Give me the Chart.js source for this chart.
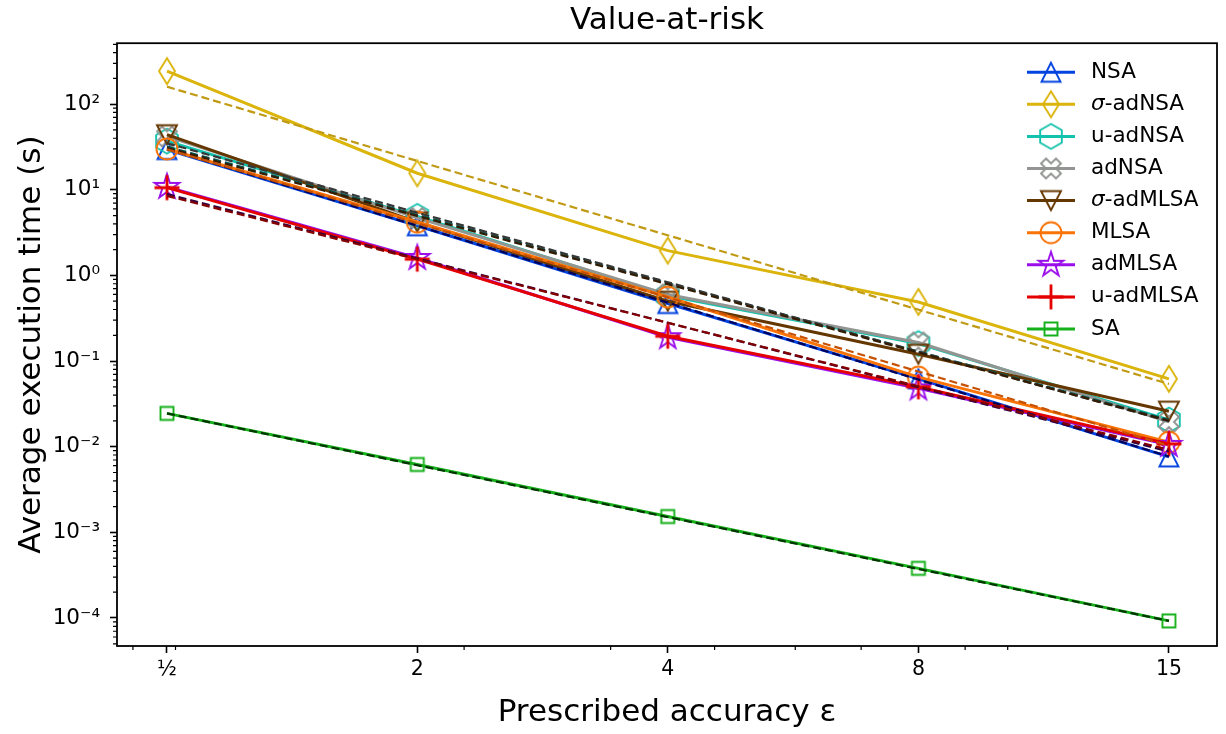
<!DOCTYPE html>
<html>
<head>
<meta charset="utf-8">
<script src="https://cdn.jsdelivr.net/npm/chart.js@4.4.1/dist/chart.umd.min.js"></script>
<style>
  html, body { margin: 0; padding: 0; background: #fff; }
  #c { display: block; }
</style>
</head>
<body>
<canvas id="c" width="1226" height="734"></canvas>
<script>
// ── Data ─────────────────────────────────────────────────────────────────────
const xTickLabels = ["½", "2", "4", "8", "15"];
const xVals       = [0.879, 1.757, 3.514, 7.03, 14.06];
const xMinor      = [0.8, 0.9, 2, 3, 4, 5, 6, 8, 9];

const yTickVals   = [1e-4, 1e-3, 1e-2, 1e-1, 1, 10, 100];
const yTickLabels = ["10⁻⁴", "10⁻³", "10⁻²", "10⁻¹", "10⁰", "10¹", "10²"];

const nsa        = [29.5, 3.8, 0.47, 0.062, 0.0076];
const sigAdNSA   = [243, 15.6, 1.95, 0.49, 0.062];
const uAdNSA     = [37, 4.9, 0.58, 0.16, 0.0205];
const adNSA      = [42, 4.7, 0.6, 0.165, 0.0195];
const sigAdMLSA  = [44, 4.2, 0.5, 0.12, 0.026];
const mlsa       = [30, 4.2, 0.56, 0.065, 0.0113];
const adMLSA     = [10.8, 1.6, 0.19, 0.048, 0.0105];
const uAdMLSA    = [10.6, 1.55, 0.195, 0.05, 0.0108];
const sa         = [0.0245, 0.0062, 0.00153, 0.00038, 0.0000925];

// dashed fit lines: value at ½ and at 15
const fitNSA       = [30, 0.0077];
const fitSigAdNSA  = [160, 0.054];
const fitUAdNSA    = [32, 0.0206];
const fitAdNSA     = [35, 0.0198];
const fitSigAdMLSA = [31, 0.0201];
const fitMLSA      = [29.8, 0.0103];
const fitAdMLSA    = [8.9, 0.0088];
const fitUAdMLSA   = [8.5, 0.0092];
const fitSA        = [0.0245, 0.0000925];

// ── Marker images (hollow, like matplotlib fillstyle='none') ────────────────
function marker(kind, color) {
  const S = 36, c = document.createElement("canvas");
  c.width = S; c.height = S;
  const g = c.getContext("2d");
  g.translate(S / 2, S / 2);
  g.strokeStyle = color;
  g.lineWidth = 1.9;
  g.lineJoin = "miter";
  g.beginPath();
  const poly = (pts) => { pts.forEach(([x, y], i) => i ? g.lineTo(x, y) : g.moveTo(x, y)); g.closePath(); };
  if (kind === "triUp")   poly([[0, -9.5], [-9.5, 9.5], [9.5, 9.5]]);
  if (kind === "triDown") poly([[0, 9.5], [-10, -9.5], [10, -9.5]]);
  if (kind === "thinDia") poly([[0, -13], [8, 0], [0, 13], [-8, 0]]);
  if (kind === "hex") {
    const p = [];
    for (let k = 0; k < 6; k++) { const a = -Math.PI / 2 + k * Math.PI / 3; p.push([12.5 * Math.cos(a), 12.5 * Math.sin(a)]); }
    poly(p);
  }
  if (kind === "xFill") poly([[-5,-10],[0,-5],[5,-10],[10,-5],[5,0],[10,5],[5,10],[0,5],[-5,10],[-10,5],[-5,0],[-10,-5]]);
  if (kind === "circle") g.arc(0, 0, 10.5, 0, Math.PI * 2);
  if (kind === "star") {
    const p = [];
    for (let k = 0; k < 10; k++) {
      const r = k % 2 ? 13 * 0.382 : 13, a = -Math.PI / 2 + k * Math.PI / 5;
      p.push([r * Math.cos(a), r * Math.sin(a)]);
    }
    poly(p);
  }
  if (kind === "plus") { g.lineWidth = 2.8; g.moveTo(-12.5, 0); g.lineTo(12.5, 0); g.moveTo(0, -12.5); g.lineTo(0, 12.5); }
  if (kind === "square") g.rect(-6.5, -6.5, 13, 13);
  g.stroke();
  return c;
}

const series = [
  { name: "NSA",      data: nsa,       color: "#0343df", mk: "triUp",   fit: fitNSA,       fitColor: "#00035b" },
  { name: "σ-adNSA",  data: sigAdNSA,  color: "#dbb40c", mk: "thinDia", fit: fitSigAdNSA,  fitColor: "#c09a14" },
  { name: "u-adNSA",  data: uAdNSA,    color: "#13c2ac", mk: "hex",     fit: fitUAdNSA,    fitColor: "#045c5a" },
  { name: "adNSA",    data: adNSA,     color: "#929591", mk: "xFill",   fit: fitAdNSA,     fitColor: "#363737" },
  { name: "σ-adMLSA", data: sigAdMLSA, color: "#653700", mk: "triDown", fit: fitSigAdMLSA, fitColor: "#341c02" },
  { name: "MLSA",     data: mlsa,      color: "#f97306", mk: "circle",  fit: fitMLSA,      fitColor: "#c65102" },
  { name: "adMLSA",   data: adMLSA,    color: "#9a0eea", mk: "star",    fit: fitAdMLSA,    fitColor: "#34013f" },
  { name: "u-adMLSA", data: uAdMLSA,   color: "#e50000", mk: "plus",    fit: fitUAdMLSA,   fitColor: "#840000" },
  { name: "SA",       data: sa,        color: "#15b01a", mk: "square",  fit: fitSA,        fitColor: "#033500" },
];
series.forEach(s => s.img = marker(s.mk, s.color));

const datasets = [];
series.forEach((s, i) => datasets.push({
  label: s.name,
  data: xVals.map((x, j) => ({ x, y: s.data[j] })),
  borderColor: s.color,
  borderWidth: 3,
  borderJoinStyle: "round",
  pointStyle: s.img,
  pointRadius: 10,
  tension: 0,
  fill: false,
  order: 50 - i,
}));
series.forEach((s, i) => datasets.push({
  label: s.name + " fit",
  data: [{ x: xVals[0], y: s.fit[0] }, { x: xVals[xVals.length - 1], y: s.fit[1] }],
  borderColor: s.fitColor,
  borderWidth: 2.2,
  borderDash: [8, 4],
  pointRadius: 0,
  tension: 0,
  fill: false,
  order: 20 - i,
}));

// ── Plugins: frame, minor ticks, legend ─────────────────────────────────────
const FONT = "'DejaVu Sans', sans-serif";

const framePlugin = {
  id: "frame",
  afterDraw(chart) {
    const { ctx, chartArea: a, scales } = chart;
    ctx.save();
    ctx.strokeStyle = "#000";
    // minor ticks
    ctx.lineWidth = 1.2;
    ctx.beginPath();
    xMinor.forEach(v => {
      const px = scales.x.getPixelForValue(v);
      ctx.moveTo(px, a.bottom); ctx.lineTo(px, a.bottom + 4);
    });
    for (let e = -5; e <= 2; e++) {
      for (let m = 2; m <= 9; m++) {
        const v = m * Math.pow(10, e);
        if (v < scales.y.min || v > scales.y.max) continue;
        const py = scales.y.getPixelForValue(v);
        ctx.moveTo(a.left, py); ctx.lineTo(a.left - 4, py);
      }
    }
    ctx.stroke();
    // axes box
    ctx.lineWidth = 1.8;
    ctx.strokeRect(a.left, a.top, a.right - a.left, a.bottom - a.top);

    // legend
    const lx = a.right - 190, tx = a.right - 126;
    ctx.textBaseline = "middle";
    series.forEach((s, i) => {
      const y = a.top + 29 + i * 32.1;
      ctx.strokeStyle = s.color;
      ctx.lineWidth = 3;
      ctx.beginPath(); ctx.moveTo(lx, y); ctx.lineTo(lx + 48, y); ctx.stroke();
      ctx.drawImage(s.img, lx + 24 - s.img.width / 2, y - s.img.height / 2);
      ctx.fillStyle = "#000";
      let x = tx;
      let rest = s.name;
      if (rest.startsWith("σ")) {
        ctx.font = "italic 21.5px " + FONT;
        ctx.fillText("σ", x, y);
        x += ctx.measureText("σ").width;
        rest = rest.slice(1);
      }
      ctx.font = "21.5px " + FONT;
      ctx.fillText(rest, x, y);
    });
    ctx.restore();
  }
};

new Chart(document.getElementById("c"), {
  type: "line",
  data: { datasets },
  plugins: [framePlugin],
  options: {
    responsive: false,
    animation: false,
    layout: { autoPadding: false, padding: { left: 0, right: 9, top: 0, bottom: 0 } },
    plugins: {
      legend: { display: false },
      tooltip: { enabled: false },
      title: {
        display: true,
        text: "Value-at-risk",
        color: "#000",
        fullSize: false,
        font: { family: FONT, size: 31, weight: "normal" },
        padding: { top: 2, bottom: 4 },
      },
    },
    scales: {
      x: {
        type: "logarithmic",
        min: 0.7655,
        max: 16.06,
        afterBuildTicks: (s) => { s.ticks = xVals.map(v => ({ value: v })); },
        afterFit: (s) => { s.height = 88; s.paddingLeft = 0; s.paddingRight = 0; },
        border: { display: false },
        grid: { drawOnChartArea: false, drawTicks: true, tickLength: 7, tickWidth: 1.6, tickColor: "#000" },
        ticks: {
          autoSkip: false, maxRotation: 0, padding: 4, color: "#000",
          font: { family: FONT, size: 20.5 },
          callback: (v) => xTickLabels[xVals.indexOf(v)],
        },
        title: {
          display: true, text: "Prescribed accuracy ε", color: "#000",
          font: { family: FONT, size: 31 }, padding: { top: 0, bottom: 2 },
        },
      },
      y: {
        type: "logarithmic",
        min: 4.71e-5,
        max: 515,
        afterBuildTicks: (s) => { s.ticks = yTickVals.map(v => ({ value: v })); },
        afterFit: (s) => { s.width = 117; },
        border: { display: false },
        grid: { drawOnChartArea: false, drawTicks: true, tickLength: 7, tickWidth: 1.6, tickColor: "#000" },
        ticks: {
          autoSkip: false, padding: 10, color: "#000",
          font: { family: FONT, size: 21.5 },
          callback: (v) => yTickLabels[yTickVals.indexOf(v)],
        },
        title: {
          display: true, text: "Average execution time (s)", color: "#000",
          font: { family: FONT, size: 31 }, padding: { top: 13, bottom: 0 },
        },
      },
    },
  },
});
</script>
</body>
</html>
